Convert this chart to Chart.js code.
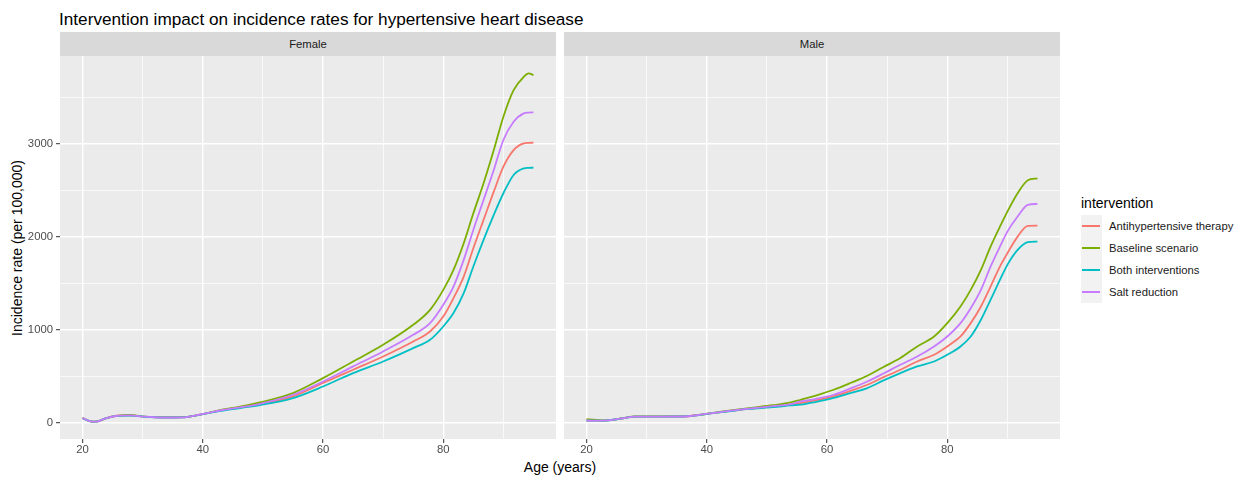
<!DOCTYPE html>
<html>
<head>
<meta charset="utf-8">
<script src="https://cdn.jsdelivr.net/npm/chart.js@4.4.0/dist/chart.umd.min.js"></script>
<style>
  body { margin: 0; background: #fff; font-family: "Liberation Sans", Arial, sans-serif; }
  #wrap { position: relative; width: 1248px; height: 481px; overflow: hidden; }
  .txt { position: absolute; white-space: nowrap; line-height: 1; }
  .strip { position: absolute; top: 32px; height: 24px; background: #D9D9D9; color: #1A1A1A;
           font-size: 11.3px; line-height: 24px; text-align: center; }
  canvas { position: absolute; }
  .key { position: absolute; left: 1081px; width: 21px; height: 22px; background: #F2F2F2; }
  .key i { position: absolute; left: 1px; right: 2px; top: 10px; height: 2px; }
</style>
</head>
<body>
<div id="wrap">
  <div class="txt" style="left:59px; top:11px; font-size:17.2px; color:#000;">Intervention impact on incidence rates for hypertensive heart disease</div>
  <div class="strip" style="left:60px; width:496px;">Female</div>
  <div class="strip" style="left:564px; width:496px;">Male</div>
  <div class="txt" style="left:17px; top:248px; font-size:14px; color:#000; transform:translate(-50%,-50%) rotate(-90deg);">Incidence rate (per 100,000)</div>
  <div class="txt" style="left:560px; top:467px; font-size:14px; color:#000; transform:translate(-50%,-50%);">Age (years)</div>
  <div class="txt" style="left:1081px; top:196px; font-size:14px; color:#000;">intervention</div>
  <div id="legend"></div>
  <canvas id="female" width="556" height="410" style="left:0; top:56px;"></canvas>
  <canvas id="male" width="496" height="410" style="left:564px; top:56px;"></canvas>
</div>
<script>
// values
const interventions = ['Antihypertensive therapy', 'Baseline scenario', 'Both interventions', 'Salt reduction'];

const femaleAges     = [20, 21.6, 22.5, 23.7, 25.8, 28, 30.2, 33.4, 36.6, 38.7, 40.8, 43, 46.2, 49.5, 55, 60, 65, 70, 75, 77.8, 80, 81.7, 83.4, 85, 86.7, 88.4, 90, 91.7, 93.4, 94.2, 95];
const femaleAntihyp  = [50, 12, 14, 45, 75, 78, 65, 56, 58, 77, 104, 133, 163, 199, 283, 427, 570, 713, 874, 982, 1143, 1341, 1573, 1878, 2183, 2487, 2756, 2935, 3007, 3012, 3014];
const femaleBaseline = [50, 12, 14, 45, 77, 84, 66, 60, 59, 77, 104, 138, 172, 218, 319, 480, 659, 839, 1054, 1215, 1430, 1645, 1932, 2254, 2577, 2935, 3294, 3580, 3724, 3760, 3742];
const femaleBoth     = [48, 12, 14, 44, 74, 77, 64, 56, 58, 76, 102, 128, 158, 190, 265, 390, 534, 659, 803, 892, 1036, 1180, 1394, 1681, 1968, 2237, 2470, 2667, 2738, 2743, 2745];
const femaleSalt     = [50, 12, 14, 45, 75, 79, 65, 56, 58, 77, 104, 134, 165, 204, 301, 444, 606, 767, 946, 1072, 1270, 1466, 1753, 2075, 2398, 2720, 3043, 3240, 3330, 3338, 3341];

const maleAges     = [20, 23, 26, 28, 32, 36, 39, 41, 44, 47, 51, 54, 55.6, 58, 61.1, 64, 66.7, 69.4, 72.2, 75, 77.8, 80, 82.2, 83.9, 85.6, 87.2, 88.9, 90, 91.7, 93.4, 95];
const maleAntihyp  = [24, 22, 48, 66, 66, 67, 86, 104, 128, 150, 174, 194, 211, 240, 283, 345, 409, 490, 570, 659, 731, 821, 928, 1072, 1251, 1466, 1699, 1824, 2003, 2118, 2122];
const maleBaseline = [37, 24, 48, 68, 68, 69, 88, 106, 132, 158, 188, 218, 247, 290, 355, 430, 505, 600, 696, 821, 928, 1072, 1251, 1430, 1645, 1896, 2129, 2272, 2470, 2610, 2631];
const maleBoth     = [22, 22, 47, 65, 66, 67, 85, 102, 126, 148, 167, 186, 194, 222, 266, 320, 373, 455, 534, 606, 659, 731, 821, 928, 1108, 1323, 1556, 1699, 1860, 1943, 1950];
const maleSalt     = [24, 22, 48, 66, 66, 67, 86, 104, 129, 152, 178, 200, 229, 255, 301, 372, 444, 530, 624, 713, 821, 928, 1072, 1233, 1430, 1681, 1914, 2057, 2219, 2344, 2355];

const xTickValues = [20, 30, 40, 50, 60, 70, 80, 90];
const xLabelValues = [20, 40, 60, 80];
const yTickValues = [0, 500, 1000, 1500, 2000, 2500, 3000, 3500];
const yLabelValues = [0, 1000, 2000, 3000];

const colours = ['#F8766D', '#7CAE00', '#00BFC4', '#C77CFF'];

Chart.defaults.font.family = '"Liberation Sans", Arial, sans-serif';

// ggplot style: 5% expansion of the data range, shared by both facets
const allAges = femaleAges.concat(maleAges);
const allVals = [].concat(femaleAntihyp, femaleBaseline, femaleBoth, femaleSalt, maleAntihyp, maleBaseline, maleBoth, maleSalt);
const xLo = Math.min(...allAges), xHi = Math.max(...allAges);
const yLo = Math.min(...allVals), yHi = Math.max(...allVals);
const xMin = xLo - 0.05 * (xHi - xLo), xMax = xHi + 0.05 * (xHi - xLo);
const yMin = yLo - 0.05 * (yHi - yLo), yMax = yHi + 0.05 * (yHi - yLo);

const panelBg = {
  id: 'panelBg',
  beforeDraw(chart) {
    const a = chart.chartArea, c = chart.ctx;
    c.save();
    c.fillStyle = '#EBEBEB';
    c.fillRect(a.left, a.top, a.right - a.left, a.bottom - a.top);
    c.restore();
  }
};

function pts(ages, vals) {
  return ages.map((a, i) => ({ x: a, y: vals[i] }));
}

function noPad(s) {
  s.paddingTop = 0; s.paddingBottom = 0; s.paddingLeft = 0; s.paddingRight = 0;
}

function makeChart(id, ages, seriesList, showY) {
  new Chart(document.getElementById(id), {
    type: 'line',
    data: {
      datasets: seriesList.map((vals, i) => ({
        label: interventions[i],
        data: pts(ages, vals),
        borderColor: colours[i],
        borderWidth: 1.8,
        pointRadius: 0,
        cubicInterpolationMode: 'monotone',
        order: interventions.length - i
      }))
    },
    options: {
      responsive: false,
      animation: false,
      layout: { padding: 0, autoPadding: false },
      plugins: { legend: { display: false }, tooltip: { enabled: false } },
      scales: {
        x: {
          type: 'linear', min: xMin, max: xMax,
          afterBuildTicks: s => { s.ticks = xTickValues.map(v => ({ value: v })); },
          afterFit: s => { s.height = 27; noPad(s); },
          border: { display: false },
          grid: {
            color: '#FFFFFF',
            lineWidth: c => xLabelValues.includes(c.tick.value) ? 1.4 : 0.7,
            tickLength: 4,
            tickWidth: 1,
            tickColor: c => xLabelValues.includes(c.tick.value) ? '#333333' : 'rgba(0,0,0,0)'
          },
          ticks: {
            padding: 0,
            color: '#4D4D4D',
            font: { size: 11.3 },
            maxRotation: 0,
            autoSkip: false,
            callback: v => xLabelValues.includes(v) ? String(v) : ''
          }
        },
        y: {
          type: 'linear', min: yMin, max: yMax,
          afterBuildTicks: s => { s.ticks = yTickValues.map(v => ({ value: v })); },
          afterFit: s => { s.width = showY ? 60 : 0; noPad(s); },
          border: { display: false },
          grid: {
            color: '#FFFFFF',
            lineWidth: c => yLabelValues.includes(c.tick.value) ? 1.4 : 0.7,
            drawTicks: showY,
            tickLength: 4,
            tickWidth: 1,
            tickColor: c => yLabelValues.includes(c.tick.value) ? '#333333' : 'rgba(0,0,0,0)'
          },
          ticks: {
            display: showY,
            padding: 3,
            color: '#4D4D4D',
            font: { size: 11.3 },
            autoSkip: false,
            callback: v => yLabelValues.includes(v) ? String(v) : ''
          }
        }
      }
    },
    plugins: [panelBg]
  });
}

makeChart('female', femaleAges, [femaleAntihyp, femaleBaseline, femaleBoth, femaleSalt], true);
makeChart('male', maleAges, [maleAntihyp, maleBaseline, maleBoth, maleSalt], false);

// legend keys
const legend = document.getElementById('legend');
interventions.forEach((name, i) => {
  const top = 215 + i * 22;
  legend.insertAdjacentHTML('beforeend',
    '<div class="key" style="top:' + top + 'px"><i style="background:' + colours[i] + '"></i></div>' +
    '<div class="txt" style="left:1109px; top:' + (top + 5.5) + 'px; font-size:11.3px; color:#1A1A1A;">' + name + '</div>');
});
</script>
</body>
</html>
